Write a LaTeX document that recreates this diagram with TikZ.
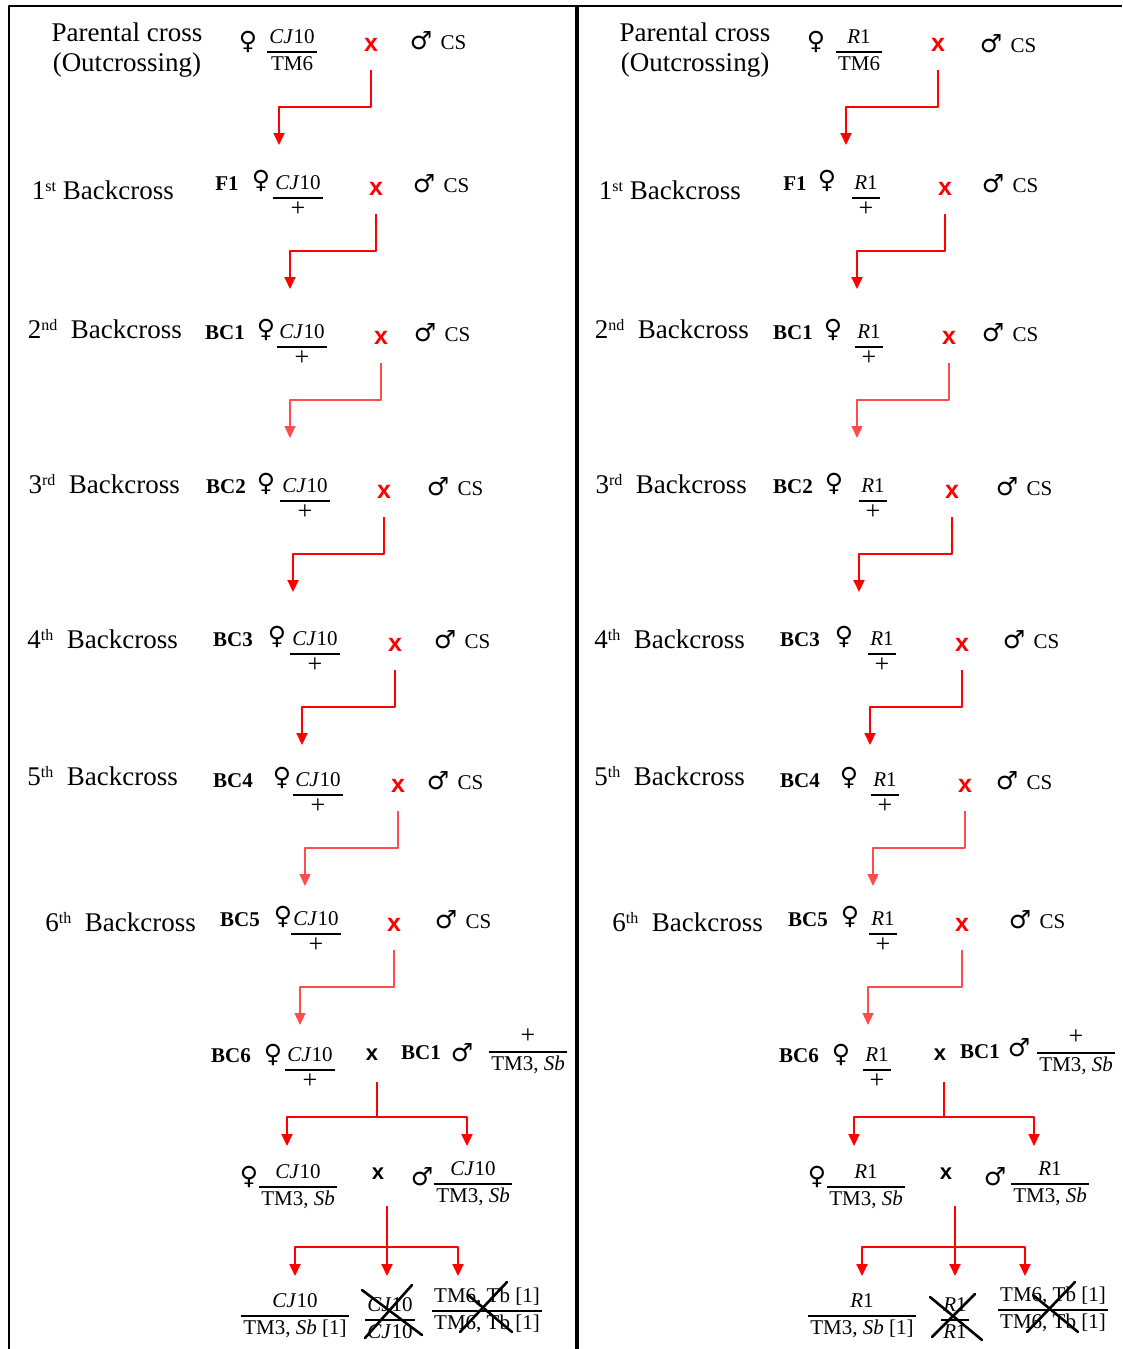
\documentclass[tikz,border=0pt]{standalone}
\usepackage{fontspec}
\setmainfont{Liberation Serif}
\newfontfamily\xfont{Liberation Sans}
\newfontfamily\symfont{DejaVu Sans}
\usetikzlibrary{arrows.meta,positioning}

\newcommand{\cj}{\textit{CJ}10}
\newcommand{\rone}{\textit{R}1}
\newcommand{\pl}{{\fontsize{26}{26}\selectfont +}}
\newcommand{\gfrac}[2]{\begin{tabular}{@{\hspace{2pt}}c@{\hspace{2pt}}}#1\\\hline #2\end{tabular}}
\newcommand{\sufx}[1]{\raisebox{8pt}{\fontsize{16}{16}\selectfont #1}}
\setlength{\arrayrulewidth}{1.8pt}

\tikzset{
  stage/.style={font=\fontsize{27}{30}\selectfont, inner sep=0pt},
  gen/.style={font=\fontsize{21}{24}\selectfont\bfseries, inner sep=0pt},
  cs/.style={font=\fontsize{21}{24}\selectfont, inner sep=0pt},
  sex/.style={font=\symfont\fontsize{25}{28}\selectfont, inner sep=0pt},
  geno/.style={font=\fontsize{21}{25}\selectfont, inner sep=0pt},
  crossmark/.style={font=\xfont\bfseries\fontsize{25}{26}\selectfont, text=red, inner sep=0pt},
  blackmark/.style={crossmark, text=black, font=\xfont\bfseries\fontsize{22}{24}\selectfont},
  link/.style={red, line width=2pt, -{Triangle[width=11pt,length=12pt]}},
  faint link/.style={link, red!70, line width=1.3pt},
  stem/.style={red, line width=2pt},
  strike/.style={line width=2.6pt, line cap=round},
}

\begin{document}
\begin{tikzpicture}[x=1pt, y=-1pt, line join=round]
  \useasboundingbox (0,0) rectangle (1122,1349);
  % frame
  \draw[line width=2.5pt] (9,1349) -- (9,6) -- (1122,6);
  \draw[line width=3.5pt] (577,6) -- (577,1349);

  % parental crosses
  \node[stage, align=center] (Ls0) at (127,50) {Parental cross\\(Outcrossing)};
  \node[sex] (Lv0) at (248,42) {♀};
  \node[geno] (Lf0) at (292,52) {\gfrac{\cj}{TM6}};
  \node[crossmark] (Lx0) at (371,45) {x};
  \node[sex] (Lm0) at (421,41) {♂};
  \node[cs, anchor=base west] (Lc0) at ([xshift=8pt]Lm0.base east) {CS};
  \coordinate (Lt0) at (279,145);
  \draw[link] ([yshift=-25pt]Lx0.center) -- ++(0,37) -| (Lt0);

  \node[stage, align=center] (Rs0) at (695,50) {Parental cross\\(Outcrossing)};
  \node[sex] (Rv0) at (816,42) {♀};
  \node[geno] (Rf0) at (859,52) {\gfrac{\rone}{TM6}};
  \node[crossmark] (Rx0) at (938,45) {x};
  \node[sex] (Rm0) at (991,44) {♂};
  \node[cs, anchor=base west] (Rc0) at ([xshift=8pt]Rm0.base east) {CS};
  \coordinate (Rt0) at (846,145);
  \draw[link] ([yshift=-25pt]Rx0.center) -- ++(0,37) -| (Rt0);

  % backcrosses 1-6
  \foreach \p/\al/\n/\ord/\lx/\ly/\g/\gx/\fx/\cx/\b/\xx/\mx/\ax/\ls in {
    L/\cj/1/st/174/190/F1/227/261/298/198/376/424/290/link,
    L/\cj/2/nd/182/329/BC1/225/266/302/347/381/425/290/faint link,
    L/\cj/3/rd/180/484/BC2/226/266/305/501/384/438/293/link,
    L/\cj/4/th/178/639/BC3/233/277/315/654/395/445/302/link,
    L/\cj/5/th/178/776/BC4/233/282/318/795/398/438/305/faint link,
    L/\cj/6/th/196/922/BC5/240/283/316/934/394/446/300/faint link,
    R/\rone/1/st/741/190/F1/795/827/866/198/945/993/857/link,
    R/\rone/2/nd/749/329/BC1/793/833/869/347/949/993/857/faint link,
    R/\rone/3/rd/747/484/BC2/793/834/873/501/952/1007/859/link,
    R/\rone/4/th/745/639/BC3/800/844/882/654/962/1014/870/link,
    R/\rone/5/th/745/776/BC4/800/849/885/795/965/1007/873/faint link,
    R/\rone/6/th/763/922/BC5/808/850/883/934/962/1020/868/faint link}{
    \node[stage, anchor=east] (\p s\n) at (\lx,\ly) {\n\sufx{\ord}\ifnum\n>1\ \fi\ Backcross};
    \node[gen] (\p g\n) at (\gx,\b-14) {\g};
    \node[sex] (\p v\n) at (\fx,\b-17) {♀};
    \node[geno] (\p f\n) at (\cx,\b) {\gfrac{\al}{\pl}};
    \node[crossmark] (\p x\n) at (\xx,\b-9) {x};
    \node[sex] (\p m\n) at (\mx,\b-14) {♂};
    \node[cs, anchor=base west] (\p c\n) at ([xshift=8pt]\p m\n.base east) {CS};
    \coordinate (\p t\n) at (\ax,\b+91);
    \draw[\ls] ([yshift=-25pt]\p x\n.center) -- ++(0,37) -| (\p t\n);
  }

  % BC6 x BC1, left
  \node[gen] (Lg7) at (231,1056) {BC6};
  \node[sex] (Lv7) at (273,1055) {♀};
  \node[geno] (Lf7) at (310,1070) {\gfrac{\cj}{\pl}};
  \node[blackmark] (Lx7) at (372,1055) {x};
  \node[gen] (Lh7) at (421,1053) {BC1};
  \node[sex] (Lm7) at (462,1053) {♂};
  \node[geno] (Lk7) at (528,1052) {\gfrac{\pl}{TM3, \textit{Sb}}};
  \coordinate (Lj7) at (377,1117);
  \coordinate (Lt7a) at (287,1146);
  \coordinate (Lt7b) at (467,1146);
  \draw[stem] ([xshift=5pt,yshift=-27pt]Lx7.center) -- (Lj7);
  \draw[link] (Lj7) -| (Lt7a);
  \draw[link] (Lj7) -| (Lt7b);

  \node[sex] (Lv8) at (249,1177) {♀};
  \node[geno] (Lf8) at (298,1187) {\gfrac{\cj}{TM3, \textit{Sb}}};
  \node[blackmark] (Lx8) at (378,1174) {x};
  \node[sex] (Lm8) at (422,1177) {♂};
  \node[geno] (Lk8) at (473,1184) {\gfrac{\cj}{TM3, \textit{Sb}}};
  \coordinate (Lj8) at (387,1247);
  \coordinate (Lt8a) at (295,1276);
  \coordinate (Lt8b) at (387,1276);
  \coordinate (Lt8c) at (458,1276);
  \draw[stem] ([xshift=9pt,yshift=-32pt]Lx8.center) -- (Lj8);
  \draw[link] (Lj8) -| (Lt8a);
  \draw[link] (Lj8) -- (Lt8b);
  \draw[link] (Lj8) -| (Lt8c);

  \node[geno] (Lo1) at (295,1316) {\gfrac{\cj}{TM3, \textit{Sb} [1]}};
  \node[geno] (Lo2) at (390,1320) {\gfrac{\cj}{\cj}};
  \node[geno] (Lo3) at (487,1311) {\gfrac{TM6, Tb [1]}{TM6, Tb [1]}};
  \draw[strike] ([shift={(-28,-30)}]Lo2.center) -- ([shift={(32,15)}]Lo2.center);
  \draw[strike] ([shift={(22,-35)}]Lo2.center) -- ([shift={(-25,18)}]Lo2.center);
  \draw[strike] ([shift={(-27,21)}]Lo3.center) -- ([shift={(20,-29)}]Lo3.center);
  \draw[strike] ([shift={(-19,-16)}]Lo3.center) -- ([shift={(25,21)}]Lo3.center);

  % BC6 x BC1, right
  \node[gen] (Rg7) at (799,1056) {BC6};
  \node[sex] (Rv7) at (841,1055) {♀};
  \node[geno] (Rf7) at (877,1070) {\gfrac{\rone}{\pl}};
  \node[blackmark] (Rx7) at (940,1055) {x};
  \node[gen] (Rh7) at (980,1052) {BC1};
  \node[sex] (Rm7) at (1019,1048) {♂};
  \node[geno] (Rk7) at (1076,1053) {\gfrac{\pl}{TM3, \textit{Sb}}};
  \coordinate (Rj7) at (944,1117);
  \coordinate (Rt7a) at (854,1146);
  \coordinate (Rt7b) at (1034,1146);
  \draw[stem] ([xshift=4pt,yshift=-27pt]Rx7.center) -- (Rj7);
  \draw[link] (Rj7) -| (Rt7a);
  \draw[link] (Rj7) -| (Rt7b);

  \node[sex] (Rv8) at (817,1177) {♀};
  \node[geno] (Rf8) at (866,1187) {\gfrac{\rone}{TM3, \textit{Sb}}};
  \node[blackmark] (Rx8) at (946,1174) {x};
  \node[sex] (Rm8) at (995,1177) {♂};
  \node[geno] (Rk8) at (1050,1184) {\gfrac{\rone}{TM3, \textit{Sb}}};
  \coordinate (Rj8) at (955,1247);
  \coordinate (Rt8a) at (862,1276);
  \coordinate (Rt8b) at (955,1276);
  \coordinate (Rt8c) at (1025,1276);
  \draw[stem] ([xshift=9pt,yshift=-32pt]Rx8.center) -- (Rj8);
  \draw[link] (Rj8) -| (Rt8a);
  \draw[link] (Rj8) -- (Rt8b);
  \draw[link] (Rj8) -| (Rt8c);

  \node[geno] (Ro1) at (862,1316) {\gfrac{\rone}{TM3, \textit{Sb} [1]}};
  \node[geno] (Ro2) at (955,1320) {\gfrac{\rone}{\rone}};
  \node[geno] (Ro3) at (1053,1310) {\gfrac{TM6, Tb [1]}{TM6, Tb [1]}};
  \draw[strike] ([shift={(-25,-23)}]Ro2.center) -- ([shift={(27,20)}]Ro2.center);
  \draw[strike] ([shift={(20,-26)}]Ro2.center) -- ([shift={(-23,17)}]Ro2.center);
  \draw[strike] ([shift={(-26,22)}]Ro3.center) -- ([shift={(22,-28)}]Ro3.center);
  \draw[strike] ([shift={(-20,-15)}]Ro3.center) -- ([shift={(25,22)}]Ro3.center);
\end{tikzpicture}
\end{document}
